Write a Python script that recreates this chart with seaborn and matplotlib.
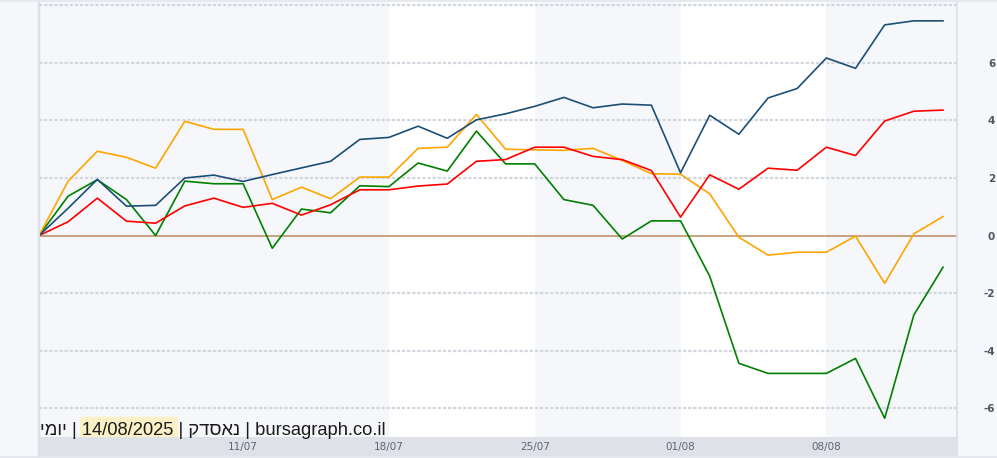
#!/usr/bin/env python3
"""Daily relative performance lines (bursagraph style), Nasdaq, 14/08/2025."""

import matplotlib

matplotlib.use("Agg")
import matplotlib.pyplot as plt
from matplotlib.lines import Line2D
from matplotlib.patches import Rectangle
import pandas as pd
import seaborn as sns

# trading days, 01/07/2025 .. 14/08/2025 (July 4 closed)
DATES = [
    "01/07", "02/07", "03/07", "07/07", "08/07", "09/07", "10/07", "11/07",
    "14/07", "15/07", "16/07", "17/07", "18/07", "21/07", "22/07", "23/07",
    "24/07", "25/07", "28/07", "29/07", "30/07", "31/07", "01/08", "04/08",
    "05/08", "06/08", "07/08", "08/08", "11/08", "12/08", "13/08", "14/08",
]
TICK_LABELS = ["11/07", "18/07", "25/07", "01/08", "08/08"]

# % change from the first day, one list per line
BLUE = [0, 0.95, 1.95, 1.02, 1.05, 2.0, 2.1, 1.88, 2.12, 2.35, 2.58, 3.34,
        3.41, 3.80, 3.38, 4.02, 4.23, 4.49, 4.80, 4.44, 4.57, 4.53, 2.18, 4.18,
        3.52, 4.78, 5.11, 6.17, 5.81, 7.32, 7.46, 7.46]
RED = [0, 0.48, 1.30, 0.50, 0.43, 1.03, 1.30, 0.98, 1.12, 0.71, 1.07, 1.59,
       1.59, 1.72, 1.79, 2.58, 2.64, 3.07, 3.07, 2.75, 2.64, 2.26, 0.64, 2.11,
       1.61, 2.34, 2.27, 3.07, 2.78, 3.98, 4.32, 4.36]
ORANGE = [0, 1.89, 2.93, 2.72, 2.34, 3.97, 3.69, 3.69, 1.25, 1.68, 1.28, 2.03,
          2.03, 3.03, 3.07, 4.21, 3.0, 2.98, 2.96, 3.03, 2.61, 2.15, 2.13, 1.45,
          -0.06, -0.68, -0.58, -0.58, -0.02, -1.66, 0.06, 0.66]
GREEN = [0, 1.37, 1.94, 1.25, 0.0, 1.89, 1.80, 1.80, -0.44, 0.92, 0.79, 1.73,
         1.70, 2.52, 2.24, 3.63, 2.49, 2.49, 1.25, 1.05, -0.12, 0.51, 0.51, -1.41,
         -4.44, -4.79, -4.79, -4.79, -4.27, -6.35, -2.76, -1.10]

SERIES = {"blue": BLUE, "red": RED, "orange": ORANGE, "green": GREEN}
PALETTE = {"blue": "#1c4f77", "red": "#ff0000", "orange": "#ffa500", "green": "#008000"}

FOOTER = "{} | 14/08/2025 | {} | bursagraph.co.il"
HEB_DAILY = "יומי"
HEB_NASDAQ = "נאסדק"

BG = "#f5f7fa"
BORDER = "#dcdfe5"
W, H = 997, 458


def fx(px):
    return px / W


def fy(py):
    return 1 - py / H


frames = []
for name, values in SERIES.items():
    frames.append(pd.DataFrame({"idx": range(len(DATES)), "date": DATES,
                                "value": values, "series": name}))
df = pd.concat(frames, ignore_index=True)

fig = plt.figure(figsize=(W / 100, H / 100), dpi=100)
fig.patch.set_facecolor(BG)

# x-axis band under the plot (behind the axes so tick labels stay visible)
fig.patches.append(Rectangle((fx(40), fy(455)), fx(957) - fx(40), fy(437) - fy(455),
                             transform=fig.transFigure, color="#dee2e8", zorder=-5))

ax = fig.add_axes([fx(39), fy(437), fx(957) - fx(39), fy(1) - fy(437)])
ax.set_facecolor(BG)

# alternating week bands (white weeks)
for start, end in [(DATES.index("18/07"), DATES.index("25/07")),
                   (DATES.index("01/08"), DATES.index("08/08"))]:
    ax.axvspan(start, end, color="white", lw=0, zorder=0)

ax.set_xlim(0, 31.48)
ax.set_ylim(-7.0, 8.15)

yticks = [-6, -4, -2, 0, 2, 4, 6, 8]
for v in yticks:
    if v == 0:
        continue
    ax.axhline(v, color="#d3d8e0", lw=1.6, ls=(0, (1.5, 0.8)), zorder=1)
ax.axhline(0, color="#b98a60", lw=1.1, zorder=2)

sns.lineplot(data=df, x="idx", y="value", hue="series", palette=PALETTE,
             hue_order=["green", "orange", "red", "blue"],
             lw=1.2, legend=False, ax=ax, zorder=3)

ax.set_xlabel("")
ax.set_ylabel("")
ax.set_xticks([DATES.index(d) for d in TICK_LABELS])
ax.set_xticklabels(TICK_LABELS, fontsize=7.5, color="#5d6675")
ax.tick_params(axis="x", length=0, pad=3.5)

ax.yaxis.tick_right()
ax.set_yticks(yticks)
ax.set_yticklabels([str(v) if v != 8 else "" for v in yticks],
                   fontsize=7.5, color="#4f5663", fontweight="bold")
ax.tick_params(axis="y", length=0, pad=27.5)
for lab in ax.get_yticklabels():
    lab.set_horizontalalignment("right")

for side in ["top", "bottom"]:
    ax.spines[side].set_visible(False)
ax.spines["left"].set_color(BORDER)
ax.spines["left"].set_linewidth(1.6)
ax.spines["right"].set_color(BORDER)
ax.spines["right"].set_linewidth(1.2)

fig.lines.append(Line2D([fx(39), fx(39)], [0, 1], transform=fig.transFigure,
                        color=BORDER, lw=1.6))
fig.lines.append(Line2D([0, 1], [fy(0.5), fy(0.5)], transform=fig.transFigure,
                        color="#e3e6eb", lw=1.2))
fig.lines.append(Line2D([0, 1], [fy(456.5), fy(456.5)], transform=fig.transFigure,
                        color="#e3e6eb", lw=1.2))

# faint logo highlight behind the date
fig.patches.append(Rectangle((fx(80), fy(436)), fx(177) - fx(80), fy(417) - fy(436),
                             transform=fig.transFigure, color="#fbf0c6", zorder=1))

# matplotlib has no bidi: reverse the Hebrew words into visual order
footer = FOOTER.format(HEB_DAILY[::-1], HEB_NASDAQ[::-1])
fig.text(fx(40), fy(435), footer, fontsize=13.2, color="#1b1b1b", va="baseline",
         ha="left", family=["Liberation Sans", "DejaVu Sans"], zorder=5)

plt.savefig("out.png", dpi=100, facecolor=fig.get_facecolor())
